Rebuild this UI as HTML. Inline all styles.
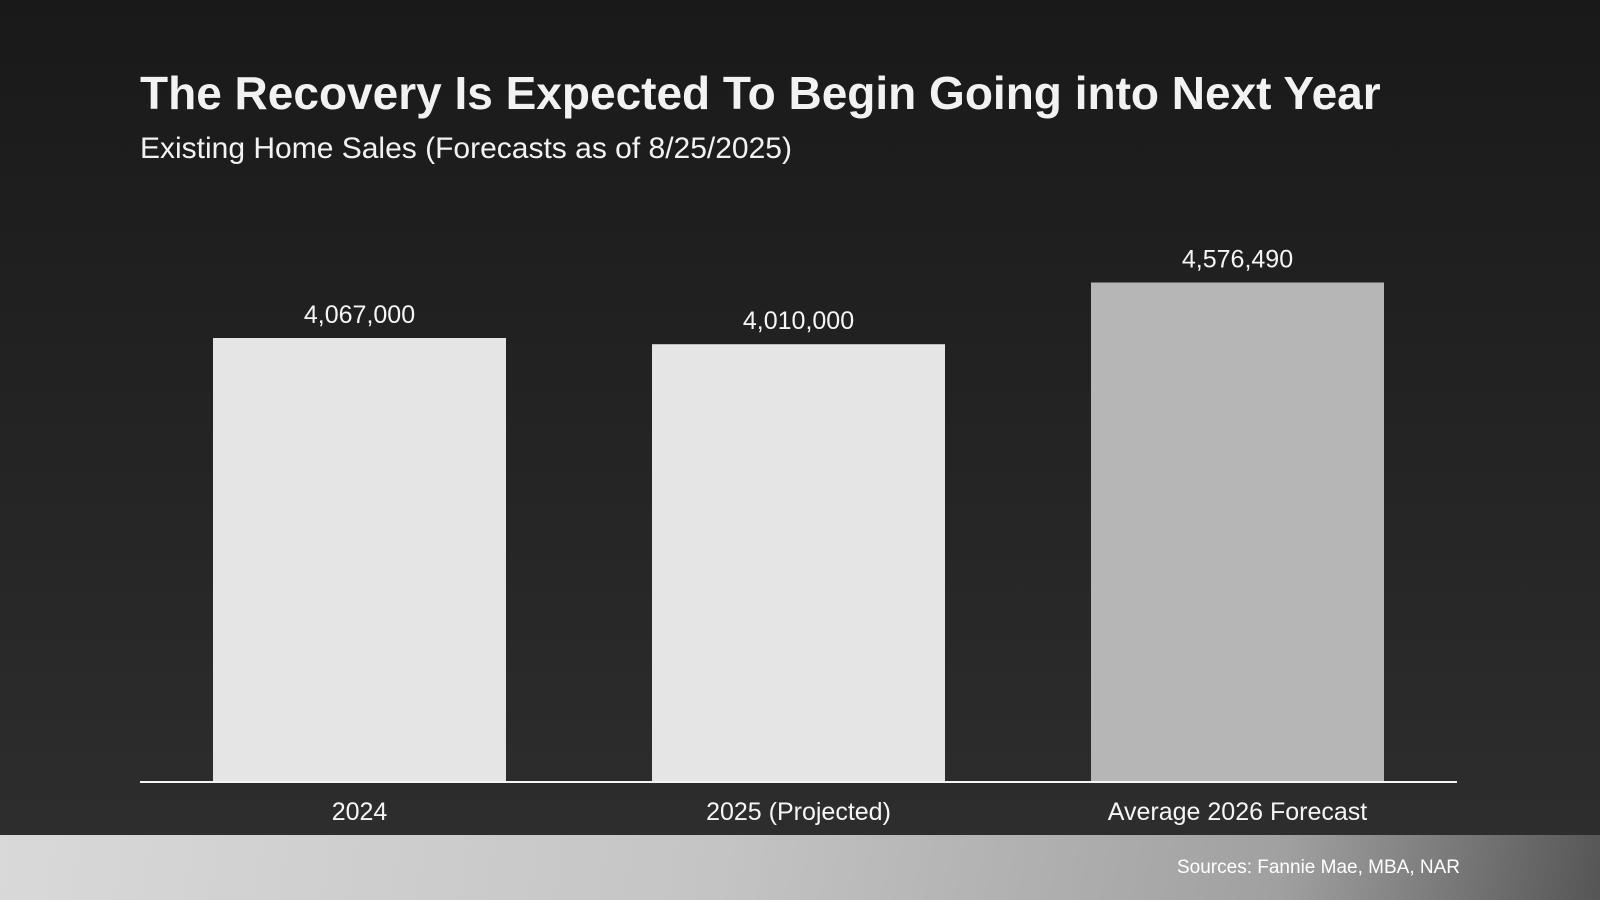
<!DOCTYPE html>
<html><head><meta charset="utf-8"><style>
html,body{margin:0;padding:0;width:1600px;height:900px;overflow:hidden;font-family:"Liberation Sans",Arial,sans-serif;}
#bg{position:absolute;left:0;top:0;width:1600px;height:900px;background:linear-gradient(180deg,#191919 0%,#2f2f2f 100%);}
#footer{position:absolute;left:0;top:835px;width:1600px;height:65px;background:linear-gradient(100deg,#d9d9d9 0%,#c4c4c4 45%,#a0a0a0 80%,#555 100%);}
#title{position:absolute;left:140px;top:66px;font-size:46px;font-weight:bold;color:#f2f2f2;white-space:nowrap;}
#subtitle{position:absolute;left:140px;top:132px;font-size:30px;color:#f2f2f2;white-space:nowrap;}
#source{position:absolute;right:140px;top:857px;font-size:19px;color:#fff;}
svg{position:absolute;left:0;top:0;}
</style></head><body>
<div id="bg"></div>
<div id="footer"></div>
<div id="title">The Recovery Is Expected To Begin Going into Next Year</div>
<div id="subtitle">Existing Home Sales (Forecasts as of 8/25/2025)</div>
<div id="source">Sources: Fannie Mae, MBA, NAR</div>
<svg id="chart" width="1600" height="900"></svg>
<script>
const categories = ["2024", "2025 (Projected)", "Average 2026 Forecast"];
const values = [4067000, 4010000, 4576490];
const valueLabels = ["4,067,000", "4,010,000", "4,576,490"];
const barColors = ["#e5e5e5", "#e5e5e5", "#b6b6b6"];

const NS = "http://www.w3.org/2000/svg";
const svg = document.getElementById("chart");
const x0 = 140, x1 = 1457, baseY = 781, pxPerUnit = 443 / 4067000;
const band = (x1 - x0) / categories.length;
const barW = 293;
function xCenter(i){ return x0 + band * (i + 0.5); }
function yPos(v){ return baseY - v * pxPerUnit; }

categories.forEach((c, i) => {
  const r = document.createElementNS(NS, "rect");
  r.setAttribute("x", xCenter(i) - barW / 2);
  r.setAttribute("y", yPos(values[i]));
  r.setAttribute("width", barW);
  r.setAttribute("height", baseY - yPos(values[i]));
  r.setAttribute("fill", barColors[i]);
  
  
  svg.appendChild(r);

  const t = document.createElementNS(NS, "text");
  t.setAttribute("x", xCenter(i));
  t.setAttribute("y", yPos(values[i]) - 15);
  t.setAttribute("text-anchor", "middle");
  t.setAttribute("font-size", "25");
  t.setAttribute("fill", "#f5f5f5");
  t.setAttribute("font-family", "Liberation Sans, Arial, sans-serif");
  t.textContent = valueLabels[i];
  
  
  svg.appendChild(t);

  const l = document.createElementNS(NS, "text");
  l.setAttribute("x", xCenter(i));
  l.setAttribute("y", 820);
  l.setAttribute("text-anchor", "middle");
  l.setAttribute("font-size", "25");
  l.setAttribute("fill", "#f5f5f5");
  l.setAttribute("font-family", "Liberation Sans, Arial, sans-serif");
  l.textContent = c;
  
  
  svg.appendChild(l);
});

const axis = document.createElementNS(NS, "line");
axis.setAttribute("x1", x0); axis.setAttribute("x2", x1);
axis.setAttribute("y1", baseY + 1); axis.setAttribute("y2", baseY + 1);
axis.setAttribute("stroke", "#f5f5f5"); axis.setAttribute("stroke-width", "2");


svg.appendChild(axis);
</script>
</body></html>
